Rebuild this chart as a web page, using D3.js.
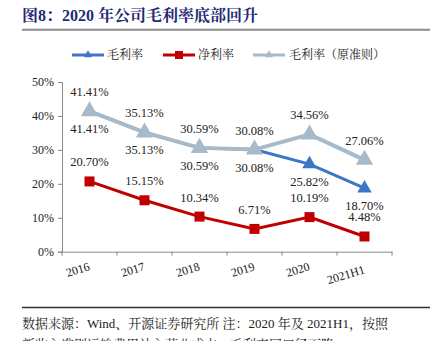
<!DOCTYPE html>
<html><head><meta charset="utf-8">
<script src="https://cdn.jsdelivr.net/npm/d3@7"></script>
<style>body{margin:0;background:#fff;overflow:hidden}svg{display:block}</style>
</head><body>
<script>
const categories = ["2016","2017","2018","2019","2020","2021H1"];
const grossMargin = [41.41, 35.13, 30.59, 30.08, 25.82, 18.70];
const netMargin = [20.70, 15.15, 10.34, 6.71, 10.19, 4.48];
const grossMarginOld = [41.41, 35.13, 30.59, 30.08, 34.56, 27.06];
const yTicks = [0, 10, 20, 30, 40, 50];
const seriesNames = ["毛利率", "净利率", "毛利率（原准则）"];

const W = 430, H = 341;
const svg = d3.select("body").append("svg").attr("width", W).attr("height", H);
const serif = "'Liberation Serif','Times New Roman',serif";
const cjk = "'Liberation Serif','Noto Serif CJK SC','Noto Sans CJK SC',serif";

// title
svg.append("text").attr("x", 22).attr("y", 21)
  .attr("font-family", cjk).attr("font-weight", "bold").attr("font-size", 16)
  .attr("fill", "#1f2a78").text("图8：2020 年公司毛利率底部回升");
svg.append("line").attr("x1", 22).attr("x2", 430).attr("y1", 29.7).attr("y2", 29.7)
  .attr("stroke", "#8c8c8c").attr("stroke-width", 2);

const x = d3.scaleBand().domain(categories).range([62, 392]);
const y = d3.scaleLinear().domain([0, 50]).range([251.7, 82]);
const cx = d => x(d) + x.bandwidth() / 2;

// axes
const yAxis = d3.axisLeft(y).tickValues(yTicks).tickFormat(d => d + "%").tickSize(4).tickPadding(4);
const gy = svg.append("g").attr("transform", "translate(62,0)").call(yAxis);
gy.select(".domain").attr("stroke", "#888");
gy.selectAll(".tick line").attr("stroke", "#888");
gy.selectAll("text").attr("font-family", serif).attr("font-size", 12).attr("fill", "#222");

const xAxis = d3.axisBottom(x).tickSize(0).tickFormat("");
const gx = svg.append("g").attr("transform", "translate(0,251.7)").call(xAxis);
gx.select(".domain").attr("stroke", "#888");
const bounds = categories.map(c => x(c)).concat([x.range()[1]]);
gx.selectAll(".btick").data(bounds).enter().append("line")
  .attr("x1", d => d).attr("x2", d => d).attr("y1", 0).attr("y2", 4)
  .attr("stroke", "#888");
svg.append("g").selectAll("text").data(categories).enter().append("text")
  .attr("transform", d => `translate(${cx(d) + 1},${d === "2021H1" ? 273 : 270}) rotate(-17)`)
  .attr("text-anchor", "end").attr("font-family", serif).attr("font-size", 12)
  .attr("fill", "#222").text(d => d);

const line = d3.line().x((d, i) => cx(categories[i])).y(d => y(d));
const colors = ["#3a77c6", "#c00000", "#a6bac9"];

function triangle(g, data, color, s) {
  g.selectAll("path.m").data(data).enter().append("path")
    .attr("d", d3.symbol().type(d3.symbolTriangle).size(s))
    .attr("transform", (d, i) => `translate(${cx(categories[i])},${y(d)})`)
    .attr("fill", color);
}

const gB = svg.append("g");
gB.append("path").datum(grossMargin).attr("d", line).attr("fill", "none")
  .attr("stroke", colors[0]).attr("stroke-width", 3);
triangle(gB, grossMargin, colors[0], 90);

const gG = svg.append("g");
gG.append("path").datum(grossMarginOld).attr("d", line).attr("fill", "none")
  .attr("stroke", colors[2]).attr("stroke-width", 4);
triangle(gG, grossMarginOld, colors[2], 130);

const gR = svg.append("g");
gR.append("path").datum(netMargin).attr("d", line).attr("fill", "none")
  .attr("stroke", colors[1]).attr("stroke-width", 3);
gR.selectAll("rect").data(netMargin).enter().append("rect")
  .attr("x", (d, i) => cx(categories[i]) - 5).attr("y", d => y(d) - 5)
  .attr("width", 10).attr("height", 10).attr("fill", colors[1]);

const fmt = d => d.toFixed(2) + "%";
function labels(data, dy) {
  svg.append("g").selectAll("text").data(data).enter().append("text")
    .attr("x", (d, i) => cx(categories[i])).attr("y", d => y(d) + dy)
    .attr("text-anchor", "middle").attr("font-family", serif).attr("font-size", 12.5)
    .attr("fill", "#222").text(fmt);
}
labels(grossMarginOld, -15);
labels(grossMargin, 22);
labels(netMargin, -15);

const legend = [
  {x: 72, tx: 107, c: colors[0], t: "tri"},
  {x: 163, tx: 198, c: colors[1], t: "sq"},
  {x: 253, tx: 289, c: colors[2], t: "tri"}
];
legend.forEach((l, i) => {
  const g = svg.append("g");
  g.append("line").attr("x1", l.x).attr("x2", l.x + 32).attr("y1", 55).attr("y2", 55)
    .attr("stroke", l.c).attr("stroke-width", 3);
  if (l.t === "tri") {
    g.append("path").attr("d", d3.symbol().type(d3.symbolTriangle).size(28))
      .attr("transform", `translate(${l.x + 16},55)`).attr("fill", l.c);
  } else {
    g.append("rect").attr("x", l.x + 12).attr("y", 51).attr("width", 8).attr("height", 8).attr("fill", l.c);
  }
  g.append("text").attr("x", l.tx).attr("y", 59).attr("font-family", cjk)
    .attr("font-size", 12).attr("fill", "#222").text(seriesNames[i]);
});

svg.append("line").attr("x1", 22).attr("x2", 430).attr("y1", 307.5).attr("y2", 307.5)
  .attr("stroke", "#333").attr("stroke-width", 1.5);
svg.append("text").attr("x", 22).attr("y", 328).attr("font-family", cjk)
  .attr("font-size", 13).attr("fill", "#222")
  .text("数据来源：Wind、开源证券研究所  注：2020 年及 2021H1，按照");
svg.append("text").attr("x", 22).attr("y", 349).attr("font-family", cjk)
  .attr("font-size", 13).attr("fill", "#222")
  .text("新收入准则运输费用计入营业成本，毛利率同口径下降");
</script>
</body></html>
